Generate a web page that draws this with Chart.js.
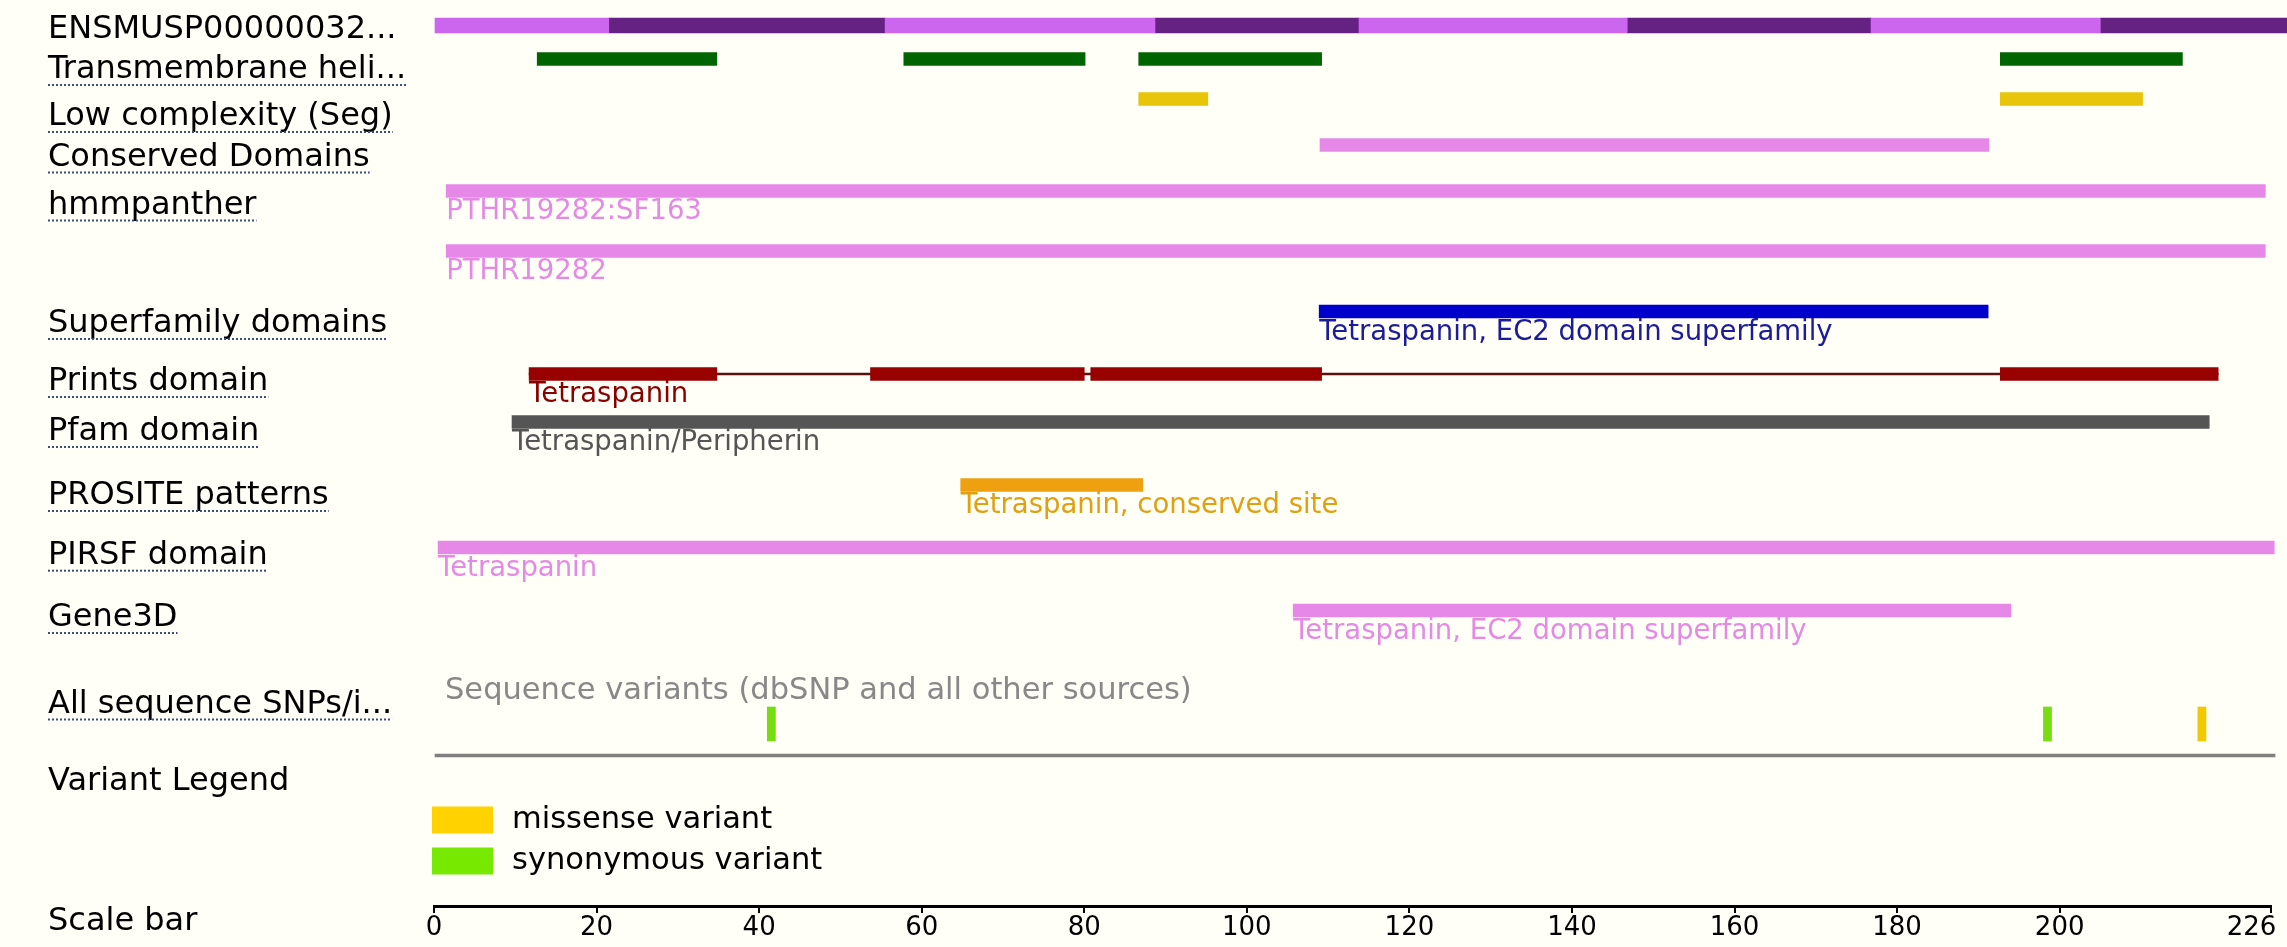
<!DOCTYPE html>
<html>
<head>
<meta charset="utf-8">
<script src="https://cdn.jsdelivr.net/npm/chart.js@4"></script>
<style>
  html, body { margin: 0; padding: 0; background: #fffef7; }
  #wrap { width: 2287px; height: 947px; position: relative; }
</style>
</head>
<body>
<div id="wrap"><canvas id="domainChart"></canvas></div>
<script>
// protein length and scale bar ticks
const proteinLength = 226;
const scaleTicks = [0, 20, 40, 60, 80, 100, 120, 140, 160, 180, 200, 226];

// track names, top to bottom
const trackNames = [
  "ENSMUSP00000032...", "Transmembrane heli...", "Low complexity (Seg)",
  "Conserved Domains", "hmmpanther", "Superfamily domains", "Prints domain",
  "Pfam domain", "PROSITE patterns", "PIRSF domain", "Gene3D",
  "All sequence SNPs/i...", "Variant Legend", "Scale bar"
];

// feature ranges [start, end] in residues
const exonLight = [[0, 21.5], [55.5, 88.7], [113.8, 146.8], [176.8, 205]];
const exonDark = [[21.5, 55.5], [88.7, 113.8], [146.8, 176.8], [205, 228]];
const transmembrane = [[12.7, 34.8], [57.8, 80.1], [86.7, 109.2], [192.7, 215.1]];
const lowComplexity = [[86.7, 95.2], [192.7, 210.2]];
const conservedDomains = [[109, 191.3]];
const hmmpanther = [[1.5, 225.3], [1.5, 225.3]];
const hmmpantherNames = ["PTHR19282:SF163", "PTHR19282"];
const superfamily = [[108.9, 191.2]];
const superfamilyNames = ["Tetraspanin, EC2 domain superfamily"];
const prints = [[11.7, 34.8], [53.7, 80.0], [80.8, 109.2], [192.7, 219.5]];
const printsSpan = [[11.7, 219.5]];
const printsNames = ["Tetraspanin"];
const pfam = [[9.6, 218.4]];
const pfamNames = ["Tetraspanin/Peripherin"];
const prosite = [[64.8, 87.2]];
const prositeNames = ["Tetraspanin, conserved site"];
const pirsf = [[0.5, 226.4]];
const pirsfNames = ["Tetraspanin"];
const gene3d = [[105.7, 194]];
const gene3dNames = ["Tetraspanin, EC2 domain superfamily"];
const variantTrack = [[0, 226.5]];
const synonymousVariants = [41, 198];
const missenseVariants = [217];
const variantLegend = ["missense variant", "synonymous variant"];

// layout: vertical positions (y scale is in canvas pixels, top = 0)
const rowY = {
  exon: 25.5, tm: 59, lowc: 99, cdd: 145, hmm: [191, 251], sf: 311.5,
  prints: 374, pfam: 422, prosite: 485, pirsf: 547.5, gene3d: 610.5,
  snp: 724, snpLine: 755.5
};
const labelY = [30, 70, 117, 157.5, 205.6, 324, 382, 432, 496, 555.7, 618, 704.5, 782, 922];
const underlined = [false, true, true, true, true, true, true, true, true, true, true, true, false, false];

const FONT = "DejaVu Sans";
const PINK = "#e588e8";

function track(ranges, y, color, thick, extra) {
  return Object.assign({
    data: ranges.map((r, i) => ({ x: r, y: Array.isArray(y) ? y[i] : y })),
    backgroundColor: color,
    barThickness: thick,
    grouped: false,
    clip: false,
    borderWidth: 0
  }, extra || {});
}

// text under features
const featureText = [
  { ranges: hmmpanther, names: hmmpantherNames, y: rowY.hmm, color: "#e48ae6" },
  { ranges: superfamily, names: superfamilyNames, y: rowY.sf, color: "#1c1c99" },
  { ranges: prints, names: printsNames, y: rowY.prints, color: "#8a0000" },
  { ranges: pfam, names: pfamNames, y: rowY.pfam, color: "#555555" },
  { ranges: prosite, names: prositeNames, y: rowY.prosite, color: "#e0a010" },
  { ranges: pirsf, names: pirsfNames, y: rowY.pirsf, color: "#e48ae6" },
  { ranges: gene3d, names: gene3dNames, y: rowY.gene3d, color: "#e48ae6" }
];

const textPlugin = {
  id: "trackText",
  beforeDraw(chart) {
    const c = chart.ctx;
    c.save();
    c.fillStyle = "#fffef7";
    c.fillRect(0, 0, chart.width, chart.height);
    c.restore();
  },
  afterDraw(chart) {
    const c = chart.ctx;
    const xs = chart.scales.x, ys = chart.scales.y;
    c.save();
    c.textBaseline = "middle";
    c.textAlign = "left";

    // track names on the left
    c.font = "32px '" + FONT + "'";
    trackNames.forEach((name, i) => {
      const y = ys.getPixelForValue(labelY[i]);
      c.fillStyle = "#000";
      c.fillText(name, 48, y);
      if (underlined[i]) {
        const w = c.measureText(name).width;
        c.beginPath();
        c.setLineDash([2, 2]);
        c.lineWidth = 2;
        c.strokeStyle = "#3c4c80";
        c.moveTo(48, y + 15);
        c.lineTo(48 + w, y + 15);
        c.stroke();
        c.setLineDash([]);
      }
    });

    // feature names
    c.font = "27.5px '" + FONT + "'";
    featureText.forEach(f => {
      f.names.forEach((n, i) => {
        const y = Array.isArray(f.y) ? f.y[i] : f.y;
        c.fillStyle = f.color;
        c.fillText(n, xs.getPixelForValue(f.ranges[i][0]), ys.getPixelForValue(y + 21));
      });
    });

    // variants header
    c.font = "30.5px '" + FONT + "'";
    c.fillStyle = "#888888";
    c.fillText("Sequence variants (dbSNP and all other sources)", xs.getPixelForValue(0) + 11, ys.getPixelForValue(691));

    // variant legend
    const legendColors = ["#ffd200", "#77e800"];
    const legendY = [820, 861];
    variantLegend.forEach((n, i) => {
      const y = ys.getPixelForValue(legendY[i]);
      c.fillStyle = legendColors[i];
      c.fillRect(xs.getPixelForValue(0) - 2, y - 13.5, 61, 27);
      c.fillStyle = "#000";
      c.fillText(n, xs.getPixelForValue(0) + 78, y);
    });
    c.restore();
  }
};

const ctx = document.getElementById("domainChart").getContext("2d");
const domainChart = new Chart(ctx, {
  type: "bar",
  data: {
    datasets: [
      track(exonLight, rowY.exon, "#cc66ee", 15),
      track(exonDark, rowY.exon, "#662283", 15),
      track(transmembrane, rowY.tm, "#006400", 13),
      track(lowComplexity, rowY.lowc, "#e8c40a", 13),
      track(conservedDomains, rowY.cdd, PINK, 13),
      track(hmmpanther, rowY.hmm, PINK, 13),
      track(superfamily, rowY.sf, "#0000cc", 13),
      track(prints, rowY.prints, "#990000", 13),
      track(printsSpan, rowY.prints, "#5a1010", 2, { order: 1 }),
      track(pfam, rowY.pfam, "#555555", 13),
      track(prosite, rowY.prosite, "#eea010", 13),
      track(pirsf, rowY.pirsf, PINK, 13),
      track(gene3d, rowY.gene3d, PINK, 13),
      track(synonymousVariants.map(p => [p, p + 1]), rowY.snp, "#77dd11", 34),
      track(missenseVariants.map(p => [p, p + 1]), rowY.snp, "#f2c800", 34),
      track(variantTrack, rowY.snpLine, "#808080", 3, { order: 1 })
    ]
  },
  options: {
    indexAxis: "y",
    responsive: true,
    maintainAspectRatio: false,
    animation: false,
    devicePixelRatio: 1,
    layout: { padding: { left: 434, right: 16, top: 0, bottom: 0 } },
    scales: {
      x: {
        type: "linear",
        min: 0,
        max: proteinLength,
        position: "bottom",
        afterBuildTicks: s => { s.ticks = scaleTicks.map(v => ({ value: v })); },
        afterFit: s => { s.paddingLeft = 0; s.paddingRight = 0; s.height = 41; },
        border: { display: true, color: "#000", width: 3 },
        grid: { drawOnChartArea: false, drawTicks: true, tickLength: 7, color: "#000", lineWidth: 2 },
        ticks: {
          color: "#000",
          padding: 0,
          maxRotation: 0,
          autoSkip: false,
          font: { family: FONT, size: 26 },
          callback: v => (v === proteinLength ? v + "\u2003\u2002" : v)
        }
      },
      y: { type: "linear", min: 0, max: 906, reverse: true, offset: false, display: false }
    },
    plugins: {
      legend: { display: false },
      tooltip: { enabled: false }
    }
  },
  plugins: [textPlugin]
});
</script>
</body>
</html>
